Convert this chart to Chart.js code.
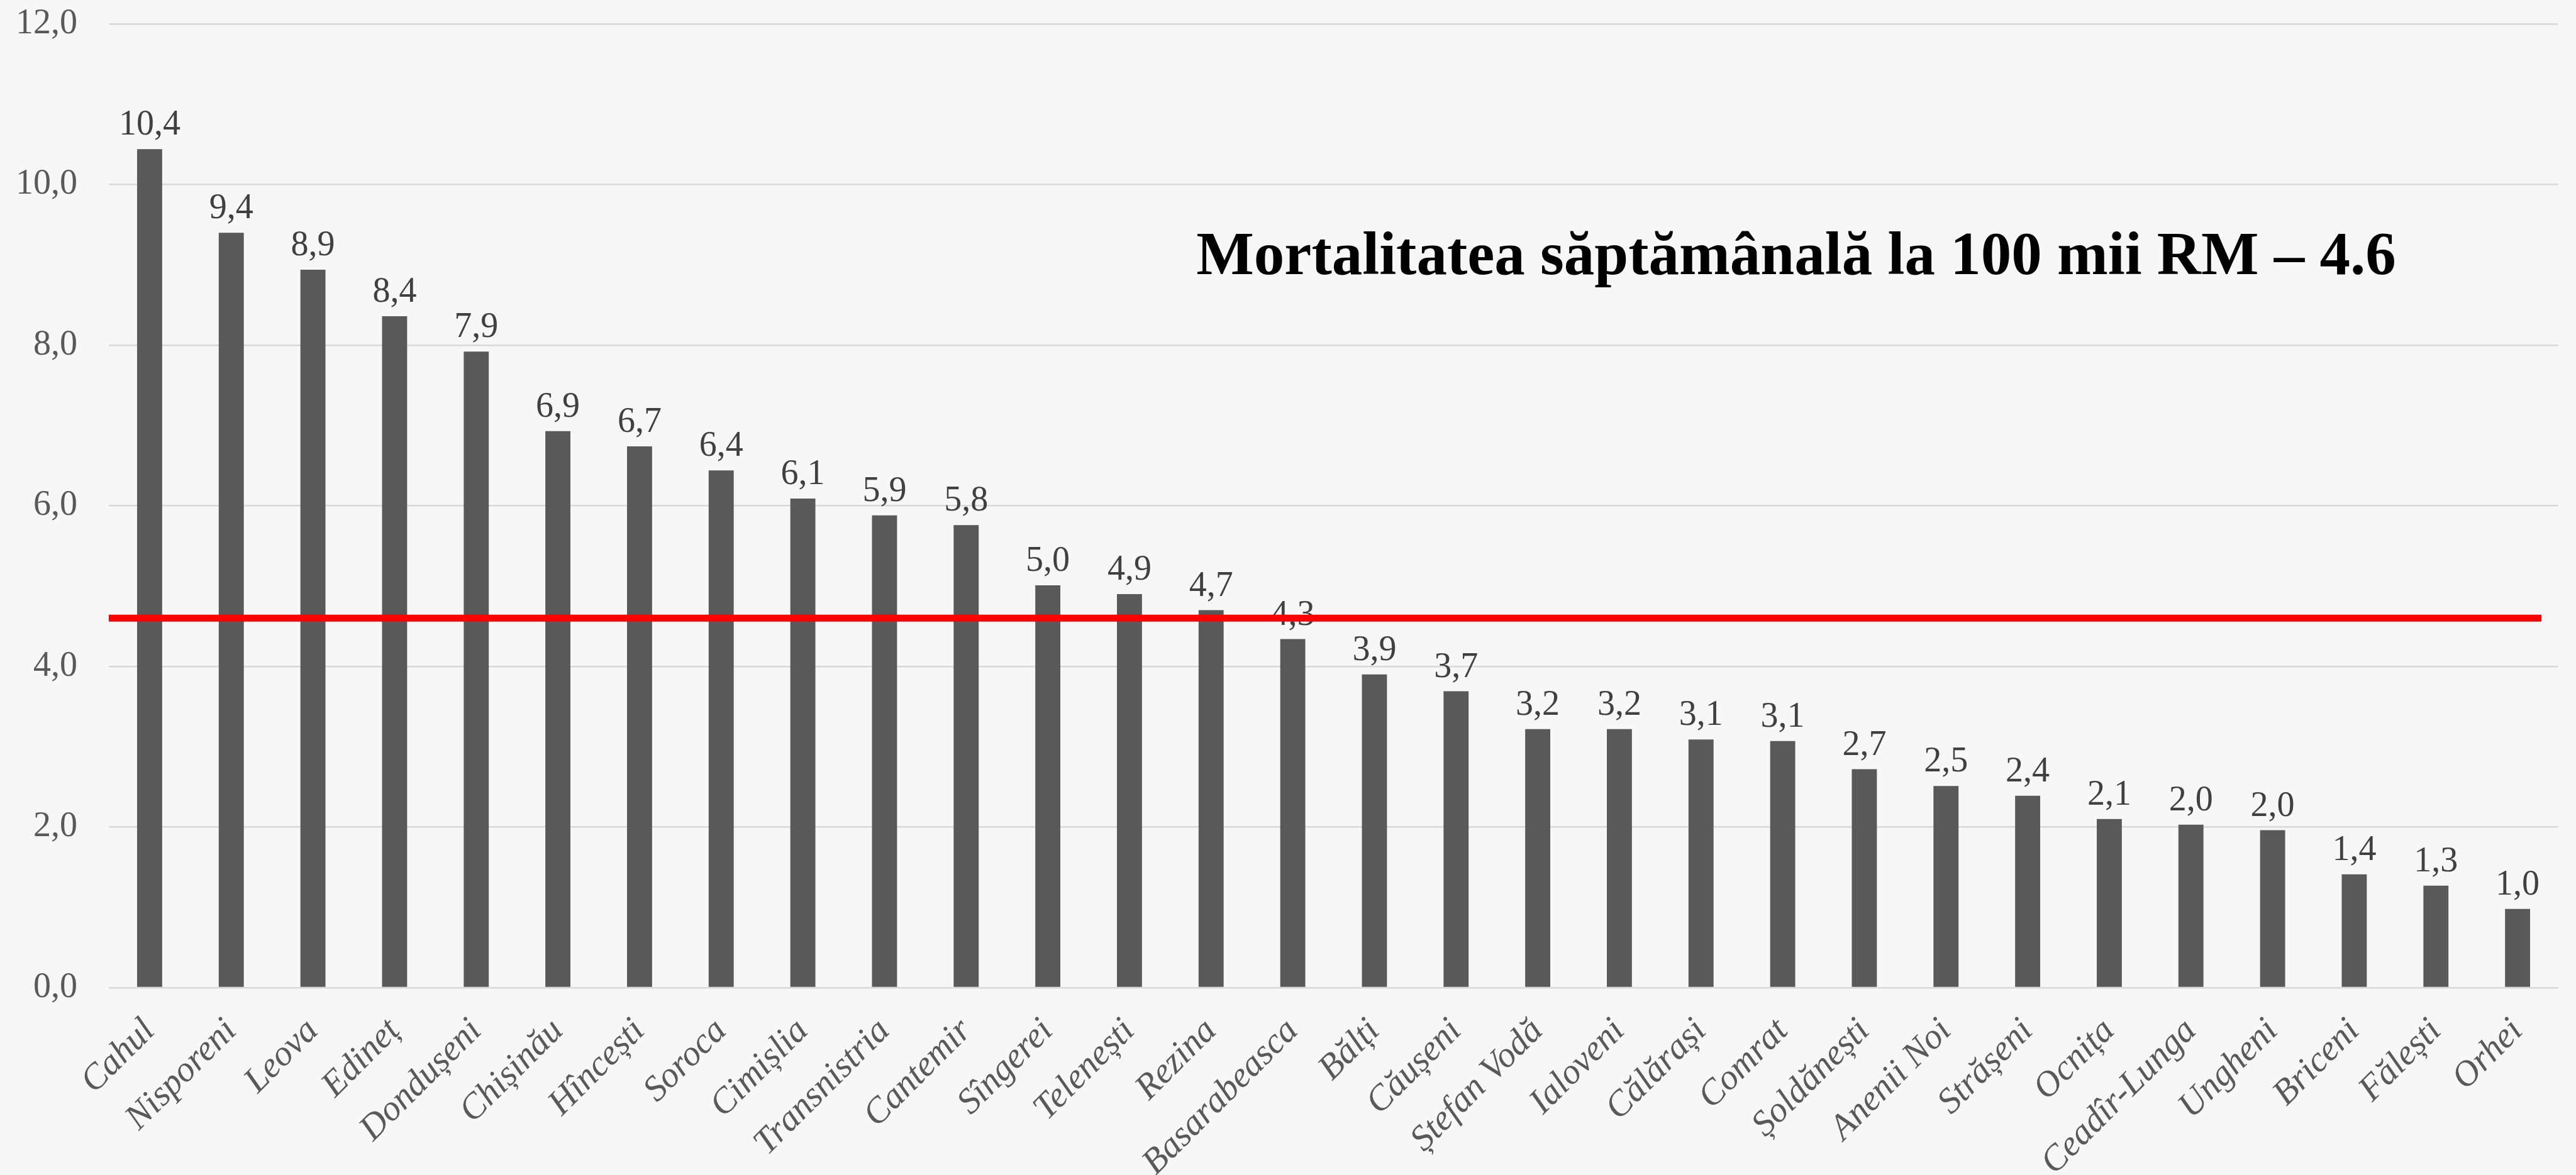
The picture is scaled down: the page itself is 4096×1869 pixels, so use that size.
<!DOCTYPE html>
<html>
<head>
<meta charset="utf-8">
<title>Mortalitatea săptămânală</title>
<script src="https://cdn.jsdelivr.net/npm/chart.js@4.4.0/dist/chart.umd.min.js"></script>
<style>
    html, body { margin: 0; padding: 0; background-color: #f7f7f7; }
    #wrap { width: 4096px; height: 1869px; }
</style>
</head>
<body>
<div id="wrap"><canvas id="myChart"></canvas></div>
<script>
    // categories (raioane) and values per 100k
    const raioane = ['Cahul', 'Nisporeni', 'Leova', 'Edineț', 'Dondușeni', 'Chișinău', 'Hîncești', 'Soroca',
        'Cimișlia', 'Transnistria', 'Cantemir', 'Sîngerei', 'Telenești', 'Rezina', 'Basarabeasca', 'Bălți',
        'Căușeni', 'Ștefan Vodă', 'Ialoveni', 'Călărași', 'Comrat', 'Șoldănești', 'Anenii Noi', 'Strășeni',
        'Ocnița', 'Ceadîr-Lunga', 'Ungheni', 'Briceni', 'Fălești', 'Orhei'];
    const mortalitate = [10.44, 9.40, 8.94, 8.36, 7.92, 6.93, 6.74, 6.44, 6.09, 5.88, 5.76, 5.01, 4.90, 4.70,
        4.34, 3.90, 3.69, 3.22, 3.22, 3.09, 3.07, 2.72, 2.51, 2.39, 2.10, 2.03, 1.96, 1.41, 1.27, 0.98];
    const mediaRM = 4.6;
    const yTicks = [0, 2, 4, 6, 8, 10, 12];
    const titlu = 'Mortalitatea săptămânală la 100 mii RM – 4.6';

    const serif = '"Liberation Serif", "Times New Roman", serif';
    const fmt = v => v.toFixed(1).replace('.', ',');

    // value above each bar
    const valueLabels = {
        id: 'valueLabels',
        afterDatasetsDraw(chart) {
            const ctx = chart.ctx;
            const meta = chart.getDatasetMeta(0);
            ctx.save();
            ctx.font = '56px ' + serif;
            ctx.fillStyle = '#404040';
            ctx.textAlign = 'center';
            ctx.textBaseline = 'alphabetic';
            meta.data.forEach((bar, i) => {
                ctx.fillText(fmt(mortalitate[i]), bar.x, bar.y - 23);
            });
            ctx.restore();
        }
    };

    // red line for the national average
    const mediaLine = {
        id: 'mediaLine',
        afterDatasetsDraw(chart) {
            const ctx = chart.ctx;
            const area = chart.chartArea;
            const y = chart.scales.y.getPixelForValue(mediaRM);
            ctx.save();
            ctx.strokeStyle = '#ff0000';
            ctx.lineWidth = 11;
            ctx.beginPath();
            ctx.moveTo(area.left, y);
            ctx.lineTo(area.right - 27, y);
            ctx.stroke();
            ctx.restore();
        }
    };

    // title inside the plot
    const titleText = {
        id: 'titleText',
        afterDraw(chart) {
            const ctx = chart.ctx;
            ctx.save();
            ctx.font = 'bold 97px ' + serif;
            ctx.fillStyle = '#000000';
            ctx.textAlign = 'center';
            ctx.textBaseline = 'alphabetic';
            ctx.fillText(titlu, 2856, 436);
            ctx.restore();
        }
    };

    const ctx = document.getElementById('myChart').getContext('2d');
    new Chart(ctx, {
        type: 'bar',
        data: {
            labels: raioane,
            datasets: [{
                data: mortalitate,
                backgroundColor: '#595959',
                borderWidth: 0,
                categoryPercentage: 1,
                barPercentage: 0.307
            }]
        },
        options: {
            responsive: true,
            maintainAspectRatio: false,
            devicePixelRatio: 1,
            animation: false,
            layout: { padding: { top: 38, right: 28, left: 0, bottom: 0 } },
            plugins: {
                legend: { display: false },
                tooltip: { enabled: false }
            },
            scales: {
                x: {
                    grid: { display: false },
                    border: { display: false },
                    ticks: {
                        autoSkip: false,
                        maxRotation: 45,
                        minRotation: 45,
                        padding: 28,
                        color: '#595959',
                        font: { family: serif, size: 57, style: 'italic' }
                    },
                    afterFit(scale) { scale.height = 298; }
                },
                y: {
                    min: yTicks[0],
                    max: yTicks[yTicks.length - 1],
                    afterBuildTicks(scale) { scale.ticks = yTicks.map(v => ({ value: v })); },
                    grid: { color: '#d9d9d9', lineWidth: 2.5, drawTicks: true, tickLength: 46, tickColor: 'rgba(0,0,0,0)' },
                    border: { display: false },
                    ticks: {
                        padding: 4,
                        color: '#595959',
                        font: { family: serif, size: 56 },
                        callback: v => fmt(v)
                    },
                    afterFit(scale) { scale.width = 173; }
                }
            }
        },
        plugins: [valueLabels, mediaLine, titleText]
    });
</script>
</body>
</html>
